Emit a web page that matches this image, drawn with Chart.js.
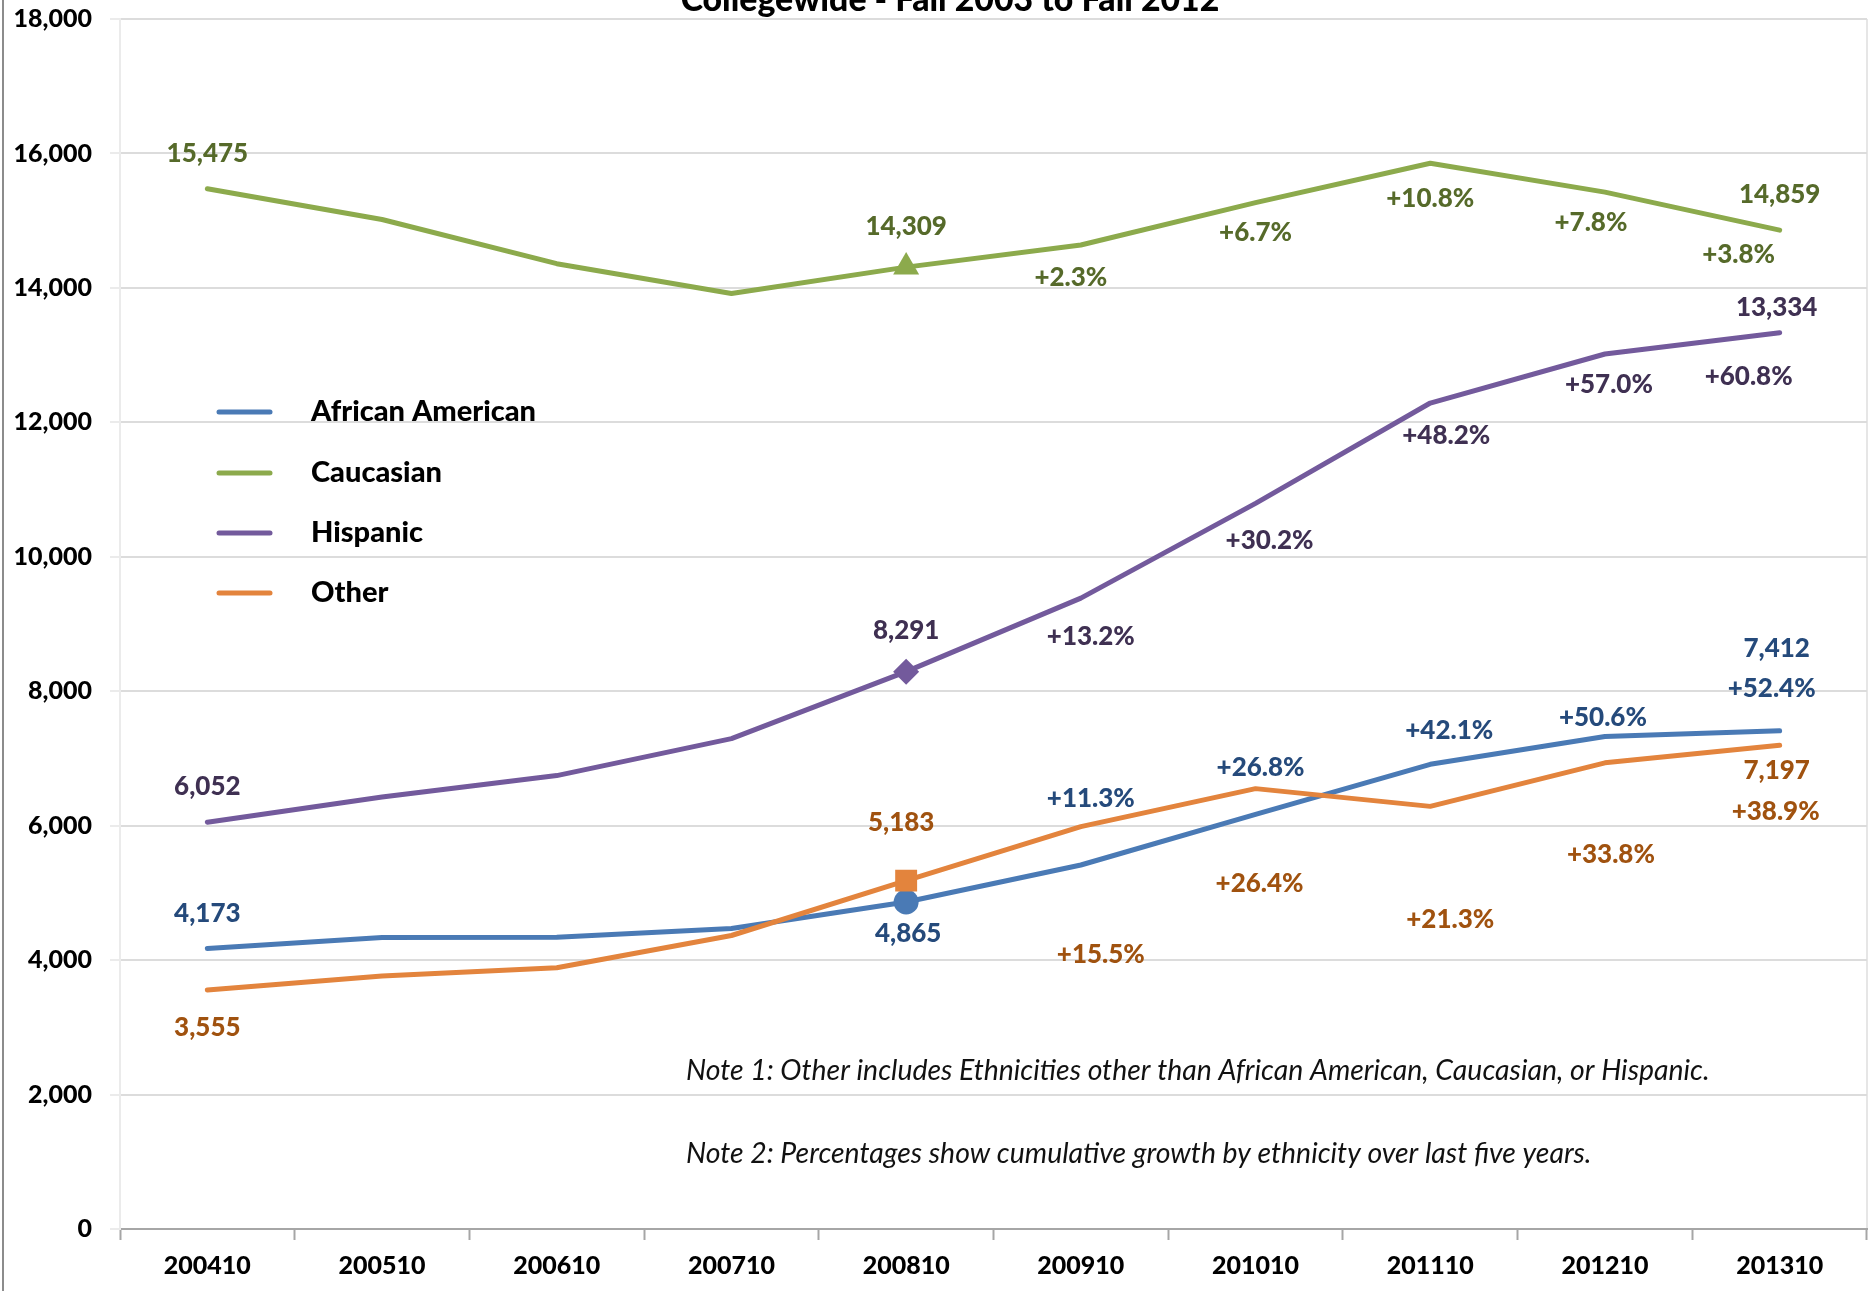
<!DOCTYPE html>
<html>
<head>
<meta charset="utf-8">
<script src="https://cdn.jsdelivr.net/npm/chart.js@4"></script>
<style>
html,body{margin:0;padding:0;background:#fff;}
#wrap{width:1871px;height:1291px;position:relative;}
</style>
</head>
<body>
<div id="wrap"><canvas id="c" width="1871" height="1291"></canvas></div>
<script>
// ---- data ----
const categories = ['200410','200510','200610','200710','200810','200910','201010','201110','201210','201310'];
const seriesNames = ['African American','Caucasian','Hispanic','Other'];
const africanAmerican = [4173, 4335, 4340, 4470, 4865, 5415, 6169, 6913, 7327, 7412];
const caucasian       = [15475, 15017, 14360, 13916, 14309, 14638, 15268, 15854, 15425, 14859];
const hispanic        = [6052, 6426, 6745, 7295, 8291, 9385, 10795, 12287, 13017, 13334];
const other           = [3555, 3763, 3887, 4366, 5183, 5986, 6551, 6287, 6935, 7197];
const africanAmericanGrowth = [null,null,null,null,null,'+11.3%','+26.8%','+42.1%','+50.6%','+52.4%'];
const caucasianGrowth       = [null,null,null,null,null,'+2.3%','+6.7%','+10.8%','+7.8%','+3.8%'];
const hispanicGrowth        = [null,null,null,null,null,'+13.2%','+30.2%','+48.2%','+57.0%','+60.8%'];
const otherGrowth           = [null,null,null,null,null,'+15.5%','+26.4%','+21.3%','+33.8%','+38.9%'];
const valueLabelIndexes = [0, 4, 9];
const yTicks = [0, 2000, 4000, 6000, 8000, 10000, 12000, 14000, 16000, 18000];
const titleText = 'Collegewide - Fall 2003 to Fall 2012';
const note1 = 'Note 1: Other includes Ethnicities other than African American, Caucasian, or Hispanic.';
const note2 = 'Note 2: Percentages show cumulative growth by ethnicity over last five years.';

// ---- styles ----
const FONT = 'Lato, "Open Sans", sans-serif';
const W = '900';
const lineColors  = ['#4A7AB5', '#8CAA4C', '#735A9C', '#E3843D'];
const labelColors = ['#254A7B', '#566A2A', '#3F3052', '#A0520F'];
const markerStyles = ['circle', 'triangle', 'rectRot', 'rect'];
const markerRadii  = [12.5, 15, 13, 15.5];
const valueOffsets = [
  {0:[0,-35], 4:[2,32], 9:[-3,-82]},
  {0:[0,-35], 4:[0,-41], 9:[0,-36]},
  {0:[0,-36], 4:[0,-41], 9:[-3,-25]},
  {0:[0,38], 4:[-5,-58], 9:[-3,25]}
];
const growthOffsets = [
  {5:[10,-66], 6:[5,-47], 7:[19,-34], 8:[-2,-19], 9:[-8,-42]},
  {5:[-10,33], 6:[0,30], 7:[0,35], 8:[-14,31], 9:[-41,24]},
  {5:[10,38], 6:[14,37], 7:[16,33], 8:[4,31], 9:[-31,44]},
  {5:[20,128], 6:[4,95], 7:[20,113], 8:[6,92], 9:[-4,66]}
];

const seriesData = [africanAmerican, caucasian, hispanic, other];
const seriesGrowth = [africanAmericanGrowth, caucasianGrowth, hispanicGrowth, otherGrowth];
const fmt = v => v.toLocaleString('en-US');

const datasets = seriesNames.map((name, s) => ({
  label: name,
  data: seriesData[s],
  borderColor: lineColors[s],
  backgroundColor: lineColors[s],
  borderWidth: 5,
  borderCapStyle: 'round',
  borderJoinStyle: 'round',
  tension: 0,
  pointStyle: markerStyles[s],
  pointRadius: seriesData[s].map((v, i) => i === 4 ? markerRadii[s] : 0),
  pointBorderWidth: 0,
  pointBackgroundColor: lineColors[s],
  pointBorderColor: lineColors[s],
  order: 4 - s
}));

const decorPlugin = {
  id: 'decor',
  beforeDraw(chart) {
    const ctx = chart.ctx;
    ctx.save();
    ctx.fillStyle = '#fff';
    ctx.fillRect(0, 0, chart.width, chart.height);
    ctx.strokeStyle = '#8C8C8C';
    ctx.lineWidth = 2;
    ctx.beginPath(); ctx.moveTo(3, 0); ctx.lineTo(3, chart.height); ctx.stroke();
    const a = chart.chartArea;
    ctx.strokeStyle = '#E6E6E6';
    ctx.beginPath(); ctx.moveTo(a.right, a.top); ctx.lineTo(a.right, a.bottom); ctx.stroke();
    ctx.restore();
  },
  afterDatasetsDraw(chart) {
    const ctx = chart.ctx;
    const xs = chart.scales.x, ys = chart.scales.y;
    ctx.save();
    ctx.textAlign = 'center';
    ctx.textBaseline = 'middle';
    ctx.font = W + ' 26px ' + FONT;
    seriesData.forEach((arr, s) => {
      ctx.fillStyle = labelColors[s];
      valueLabelIndexes.forEach(i => {
        const o = valueOffsets[s][i] || [0, -35];
        ctx.fillText(fmt(arr[i]), xs.getPixelForValue(i) + o[0], ys.getPixelForValue(arr[i]) + o[1]);
      });
      seriesGrowth[s].forEach((g, i) => {
        if (!g) return;
        const o = growthOffsets[s][i] || [0, 30];
        ctx.fillText(g, xs.getPixelForValue(i) + o[0], ys.getPixelForValue(arr[i]) + o[1]);
      });
    });
    // legend
    const legY = [412, 473, 533, 593];
    chart.data.datasets.forEach((d, k) => {
      ctx.strokeStyle = d.borderColor;
      ctx.lineWidth = 5;
      ctx.lineCap = 'round';
      ctx.beginPath(); ctx.moveTo(219, legY[k]); ctx.lineTo(270, legY[k]); ctx.stroke();
      ctx.fillStyle = '#000';
      ctx.textAlign = 'left';
      ctx.font = W + ' 29px ' + FONT;
      ctx.fillText(d.label, 311, legY[k]);
    });
    // notes
    ctx.fillStyle = '#111';
    let fs = 30;
    ctx.font = 'italic ' + fs + 'px ' + FONT;
    fs = fs * 1024 / ctx.measureText(note1).width;
    ctx.font = 'italic ' + fs.toFixed(2) + 'px ' + FONT;
    ctx.textAlign = 'left';
    ctx.fillText(note1, 686, 1071);
    ctx.fillText(note2, 686, 1154);
    // title (clipped at top)
    ctx.fillStyle = '#000';
    let tf = 30;
    ctx.font = W + ' ' + tf + 'px ' + FONT;
    tf = tf * 539 / ctx.measureText(titleText).width;
    ctx.font = W + ' ' + tf.toFixed(2) + 'px ' + FONT;
    ctx.textAlign = 'center';
    ctx.textBaseline = 'alphabetic';
    ctx.fillText(titleText, 950, 11);
    ctx.restore();
  }
};

new Chart(document.getElementById('c'), {
  type: 'line',
  data: { labels: categories, datasets },
  plugins: [decorPlugin],
  options: {
    responsive: false,
    animation: false,
    layout: { padding: { top: 19, right: 4, left: 0, bottom: 0 } },
    plugins: { legend: { display: false }, tooltip: { enabled: false }, title: { display: false } },
    scales: {
      x: {
        type: 'category',
        offset: true,
        afterFit: s => { s.height = 62; s.paddingLeft = 0; s.paddingRight = 0; },
        grid: { offset: true, drawOnChartArea: false, drawTicks: true, tickLength: 11, tickColor: '#A6A6A6', tickWidth: 2 },
        border: { display: true, color: '#A6A6A6', width: 2 },
        ticks: { color: '#000', font: { family: FONT, size: 25, weight: W }, padding: 11, maxRotation: 0, autoSkip: false }
      },
      y: {
        min: 0, max: 18000,
        afterFit: s => { s.width = 120; s.paddingTop = 0; s.paddingBottom = 0; },
        afterBuildTicks: s => { s.ticks = yTicks.map(v => ({ value: v })); },
        grid: { color: c => (c.tick && c.tick.value === 0) ? '#A6A6A6' : '#DCDCDC', lineWidth: 2, tickLength: 10, tickColor: '#EBEBEB', drawTicks: true },
        border: { display: true, color: '#EBEBEB', width: 2 },
        ticks: { color: '#000', font: { family: FONT, size: 25, weight: W }, padding: 18, callback: v => fmt(v) }
      }
    }
  }
});
</script>
</body>
</html>
